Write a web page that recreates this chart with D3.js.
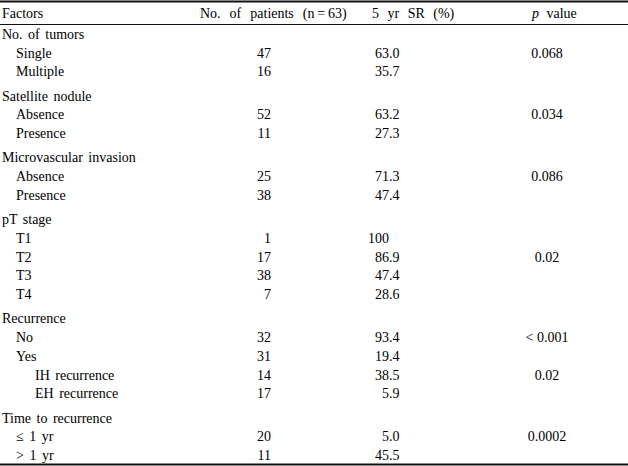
<!DOCTYPE html>
<html>
<head>
<meta charset="utf-8">
<script src="https://cdn.jsdelivr.net/npm/d3@7"></script>
<style>
  html, body { margin: 0; padding: 0; background: #fff; }
  svg { display: block; }
  text { font-family: "Liberation Serif", "Times New Roman", serif; font-size: 14px; fill: #000; }
</style>
</head>
<body>
<svg id="chart" width="628" height="466"></svg>
<script>
// ---- data ----
const headers = ["Factors", "No. of patients (n\u2009=\u200963)", "5 yr SR (%)", "value"];
const labels = [
  "No. of tumors", "Single", "Multiple",
  "Satellite nodule", "Absence", "Presence",
  "Microvascular invasion", "Absence", "Presence",
  "pT stage", "T1", "T2", "T3", "T4",
  "Recurrence", "No", "Yes", "IH recurrence", "EH recurrence",
  "Time to recurrence", "\u2264 1 yr", "> 1 yr"
];
const levels = [0,1,1, 0,1,1, 0,1,1, 0,1,1,1,1, 0,1,1,2,2, 0,1,1];
const patients = [null,47,16, null,52,11, null,25,38, null,1,17,38,7, null,32,31,14,17, null,20,11];
const survival = [null,63.0,35.7, null,63.2,27.3, null,71.3,47.4, null,100,86.9,47.4,28.6, null,93.4,19.4,38.5,5.9, null,5.0,45.5];
const pValues = [null,"0.068",null, null,"0.034",null, null,"0.086",null, null,null,"0.02",null,null, null,"< 0.001",null,"0.02",null, null,"0.0002",null];

// ---- layout ----
const W = 628, H = 466;
const svg = d3.select("#chart");

// cumulative row units with extra gap before each group header
const gapUnits = 0.30;
const units = [];
let u = 0;
levels.forEach((lv, i) => {
  if (i > 0 && lv === 0) u += gapUnits;
  units.push(u);
  u += 1;
});
const y = d3.scaleLinear().domain([0, units[units.length - 1]]).range([34, 455.2]);
const indent = d3.scaleOrdinal().domain([0, 1, 2]).range([2, 16, 35]);

const colN = 271, colSRdec = 389, colP = 547;

// rules
svg.append("line").attr("x1", 0).attr("x2", W).attr("y1", 1.5).attr("y2", 1.5)
  .attr("stroke", "#111").attr("stroke-width", 2);
svg.append("line").attr("x1", 0).attr("x2", W).attr("y1", 24.5).attr("y2", 24.5)
  .attr("stroke", "#111").attr("stroke-width", 1);
svg.append("line").attr("x1", 0).attr("x2", W).attr("y1", 464.5).attr("y2", 464.5)
  .attr("stroke", "#111").attr("stroke-width", 2);

// header
const hy = 13;
const hg = svg.append("g").attr("class", "header");
hg.append("text").attr("x", 2).attr("y", hy).attr("dy", "0.35em").text(headers[0]);
hg.append("text").attr("x", 200).attr("y", hy).attr("dy", "0.35em").style("word-spacing", "5.5px").text(headers[1]);
hg.append("text").attr("x", 372).attr("y", hy).attr("dy", "0.35em").style("word-spacing", "5px").text(headers[2]);
const pt = hg.append("text").attr("x", 532).attr("y", hy).attr("dy", "0.35em");
pt.append("tspan").style("font-style", "italic").text("p");
pt.append("tspan").text(" " + headers[3]).attr("dx", 4);

// body rows
const rows = svg.append("g").selectAll("g.row")
  .data(labels.map((l, i) => ({ l, lv: levels[i], n: patients[i], sr: survival[i], p: pValues[i], u: units[i] })))
  .join("g").attr("class", "row")
  .attr("transform", d => `translate(0,${y(d.u)})`);

rows.append("text").attr("x", d => indent(d.lv)).attr("dy", "0.35em")
  .style("word-spacing", "2px").text(d => d.l);

rows.filter(d => d.n != null).append("text")
  .attr("x", colN).attr("dy", "0.35em").attr("text-anchor", "end").text(d => d.n);

const fmtSR = v => (v === 100 ? "100" : v.toFixed(1));
const srRows = rows.filter(d => d.sr != null);
srRows.append("text").attr("x", colSRdec).attr("dy", "0.35em").attr("text-anchor", "end")
  .text(d => fmtSR(d.sr).split(".")[0]);
srRows.filter(d => fmtSR(d.sr).includes(".")).append("text")
  .attr("x", colSRdec).attr("dy", "0.35em").attr("text-anchor", "start")
  .text(d => "." + fmtSR(d.sr).split(".")[1]);

rows.filter(d => d.p != null).append("text")
  .attr("x", colP).attr("dy", "0.35em").attr("text-anchor", "middle").text(d => d.p);
</script>
</body>
</html>
